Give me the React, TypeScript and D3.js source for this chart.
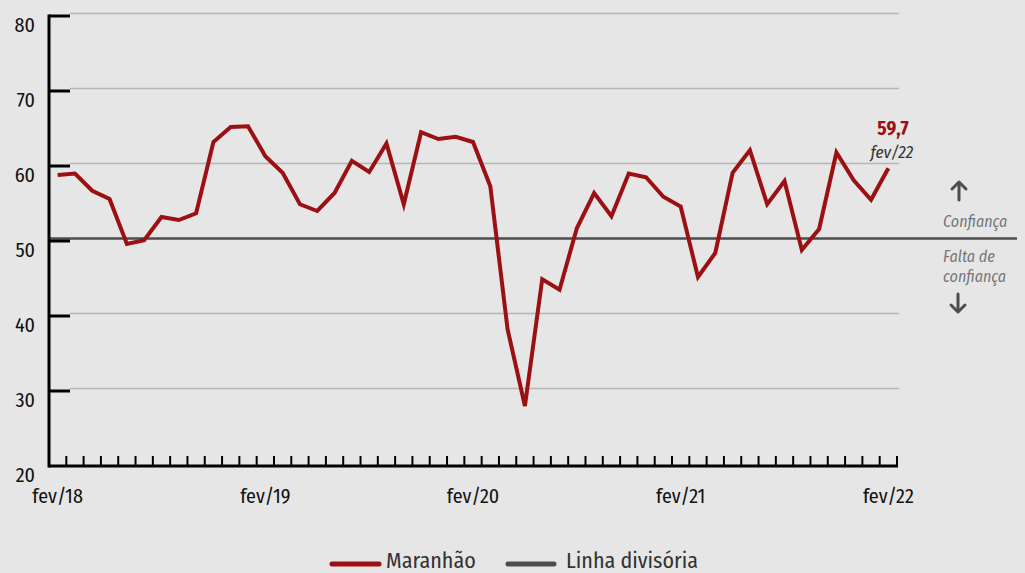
import React from "react";
import * as d3 from "d3";

const values: number[] = [
  58.8, 59.0, 56.7, 55.6, 49.6, 50.1, 53.2, 52.8, 53.7, 63.2, 65.2, 65.3,
  61.3, 59.1, 54.9, 54.0, 56.4, 60.7, 59.2, 63.0, 54.9, 64.5, 63.6, 63.9,
  63.2, 57.3, 38.2, 28.0, 44.9, 43.5, 51.7, 56.4, 53.3, 59.0, 58.5, 55.9,
  54.6, 45.2, 48.4, 59.1, 62.1, 54.9, 58.0, 48.8, 51.6, 61.8, 58.1, 55.5,
  59.7,
];
const xLabels: { index: number; label: string }[] = [
  { index: 0, label: "fev/18" },
  { index: 12, label: "fev/19" },
  { index: 24, label: "fev/20" },
  { index: 36, label: "fev/21" },
  { index: 48, label: "fev/22" },
];
const yTicks: number[] = [20, 30, 40, 50, 60, 70, 80];
const gridValues: number[] = [30, 40, 60, 70, 80];
const dividerValue = 50;
const seriesName = "Maranhão";
const dividerName = "Linha divisória";
const lastLabel = "59,7";
const lastDate = "fev/22";

const W = 1025;
const H = 573;
const RED = "#9c1014";
const DARK = "#4d4d4d";
const FONT = "'Fira Sans Condensed', 'Roboto Condensed', 'Liberation Sans Narrow', 'DejaVu Sans Condensed', Roboto, sans-serif";

export default function App() {
  const idx = d3.range(values.length);
  const x = d3.scaleBand<number>().domain(idx).range([49, 897]).padding(0);
  const cx = (i: number) => (x(i) as number) + x.bandwidth() / 2;
  const y = d3.scaleLinear().domain([20, 80]).range([466, 16]);

  const line = d3
    .line<number>()
    .x((_, i) => cx(i))
    .y((d) => y(d));

  return (
    <svg
      width={W}
      height={H}
      style={{ position: "absolute", left: 0, top: 0, display: "block" }}
      fontFamily={FONT}
    >
      <rect x={0} y={0} width={W} height={H} fill="#e6e6e6" />
      {/* gridlines */}
      {gridValues.map((v) => (
        <line
          key={"g" + v}
          x1={70}
          x2={899}
          y1={y(v) - 2.5}
          y2={y(v) - 2.5}
          stroke="#b5b5b5"
          strokeWidth={1.5}
        />
      ))}
      {/* divider */}
      <line
        x1={49}
        x2={1017}
        y1={y(dividerValue) - 2.5}
        y2={y(dividerValue) - 2.5}
        stroke={DARK}
        strokeWidth={2.5}
      />
      {/* y axis */}
      <line x1={49} x2={49} y1={y(80) - 1.5} y2={y(20) + 1.5} stroke="#000" strokeWidth={3} />
      {yTicks.map((v) => (
        <g key={"y" + v}>
          {v !== 20 && (
            <line x1={49} x2={70} y1={y(v)} y2={y(v)} stroke="#000" strokeWidth={3} />
          )}
          <text x={35} y={y(v) + 16} textAnchor="end" fontSize={20} fill="#111">
            {v}
          </text>
        </g>
      ))}
      {/* x axis */}
      <line x1={49} x2={898} y1={y(20)} y2={y(20)} stroke="#000" strokeWidth={3} />
      {idx.map((i) => (
        <line
          key={"t" + i}
          x1={(x(i) as number) + x.bandwidth()}
          x2={(x(i) as number) + x.bandwidth()}
          y1={y(20)}
          y2={y(20) - 10}
          stroke="#000"
          strokeWidth={2}
        />
      ))}
      {xLabels.map((d) => (
        <text
          key={d.label}
          x={cx(d.index)}
          y={503}
          textAnchor="middle"
          fontSize={20}
          fill="#111"
        >
          {d.label}
        </text>
      ))}
      {/* series */}
      <path
        d={line(values) || ""}
        fill="none"
        stroke={RED}
        strokeWidth={4}
        strokeLinejoin="miter"
      />
      {/* last value annotation */}
      <text x={893} y={135} textAnchor="middle" fontSize={19} fontWeight="bold" fill={RED}>
        {lastLabel}
      </text>
      <text x={892} y={158} textAnchor="middle" fontSize={17} fontStyle="italic" fill="#333">
        {lastDate}
      </text>
      {/* right annotations */}
      <g stroke={DARK} strokeWidth={3} fill="none" strokeLinecap="round" strokeLinejoin="round">
        <line x1={959} x2={959} y1={183} y2={200} />
        <polyline points="952,189 959,182 966,189" />
        <line x1={958} x2={958} y1={294} y2={311} />
        <polyline points="951,305 958,312 965,305" />
      </g>
      <text x={943} y={227} fontSize={16} fontStyle="italic" fill="#777">
        Confiança
      </text>
      <text x={943} y={262} fontSize={16} fontStyle="italic" fill="#777">
        Falta de
      </text>
      <text x={943} y={282} fontSize={16} fontStyle="italic" fill="#777">
        confiança
      </text>
      {/* legend */}
      <line x1={332} x2={379} y1={564} y2={564} stroke={RED} strokeWidth={5} strokeLinecap="round" />
      <text x={386} y={568} fontSize={22} fill="#333">
        {seriesName}
      </text>
      <line x1={508} x2={554} y1={564} y2={564} stroke={DARK} strokeWidth={5} strokeLinecap="round" />
      <text x={566} y={568} fontSize={22} fill="#333">
        {dividerName}
      </text>
    </svg>
  );
}
